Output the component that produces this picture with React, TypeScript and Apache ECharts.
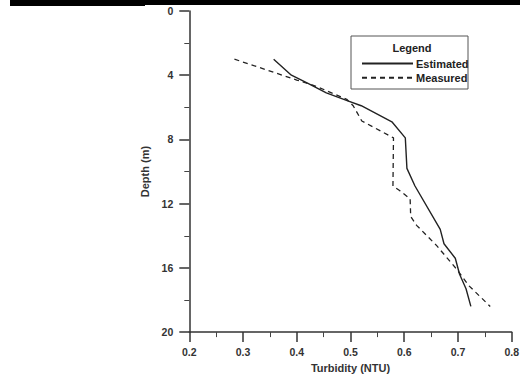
import React, { useEffect, useRef } from "react";
import * as echarts from "echarts";

const xTicks = [0.2, 0.3, 0.4, 0.5, 0.6, 0.7, 0.8];
const yTicks = [0, 4, 8, 12, 16, 20];

const estimatedTurbidity = [0.357, 0.39, 0.42, 0.455, 0.495, 0.52, 0.577, 0.602, 0.605, 0.62, 0.667, 0.674, 0.695, 0.703, 0.715, 0.724];
const estimatedDepth = [3.0, 4.0, 4.5, 5.1, 5.6, 5.9, 6.9, 7.9, 9.8, 10.9, 13.6, 14.5, 15.4, 16.4, 17.3, 18.4];

const measuredTurbidity = [0.284, 0.40, 0.437, 0.493, 0.505, 0.521, 0.58, 0.579, 0.592, 0.611, 0.612, 0.623, 0.66, 0.698, 0.72, 0.76];
const measuredDepth = [3.0, 4.3, 4.7, 5.5, 5.9, 6.85, 7.9, 10.9, 11.2, 11.7, 12.8, 13.35, 14.6, 16.1, 17.1, 18.4];

const FONT = "'Liberation Sans', Arial, sans-serif";

export default function App() {
  const ref = useRef<HTMLDivElement>(null);
  useEffect(() => {
    if (!ref.current) return;
    const chart = echarts.init(ref.current, undefined, { renderer: "svg" });
    const tickStyle = {
      axisTick: { show: true, length: 10, lineStyle: { color: "#333", width: 1.5 } },
      minorTick: { show: true, splitNumber: 2, length: 5, lineStyle: { color: "#444", width: 1 } },
      splitLine: { show: false },
      minorSplitLine: { show: false },
    };
    chart.setOption({
      animation: false,
      backgroundColor: "#fff",
      grid: { left: 189.3, right: 11.3, top: 11, bottom: 44.3, containLabel: false },
      xAxis: {
        type: "value",
        position: "bottom",
        min: xTicks[0],
        max: xTicks[xTicks.length - 1],
        interval: 0.1,
        name: "Turbidity (NTU)",
        nameLocation: "middle",
        nameGap: 27,
        nameTextStyle: { fontFamily: FONT, fontWeight: "bold", fontSize: 11, color: "#333" },
        axisLine: { show: true, onZero: false, lineStyle: { color: "#333", width: 1.5 } },
        axisLabel: {
          margin: 14,
          fontFamily: FONT,
          fontWeight: "bold",
          fontSize: 10.5,
          color: "#333",
          formatter: (v: number) => v.toFixed(1),
        },
        ...tickStyle,
      },
      yAxis: {
        type: "value",
        position: "left",
        inverse: true,
        min: yTicks[0],
        max: yTicks[yTicks.length - 1],
        interval: 4,
        name: "Depth (m)",
        nameLocation: "middle",
        nameGap: 36,
        nameTextStyle: { fontFamily: FONT, fontWeight: "bold", fontSize: 11, color: "#333" },
        axisLine: { show: true, onZero: false, lineStyle: { color: "#333", width: 1.5 } },
        axisLabel: { margin: 16, fontFamily: FONT, fontWeight: "bold", fontSize: 10.5, color: "#333" },
        ...tickStyle,
      },
      legend: {
        orient: "vertical",
        left: 356,
        top: 53,
        itemWidth: 51,
        itemHeight: 14,
        itemGap: 3,
        itemStyle: { opacity: 0 },
        textStyle: { fontFamily: FONT, fontWeight: "bold", fontSize: 11, color: "#222", padding: [0, 0, 0, -2] },
        data: ["Estimated", "Measured"],
      },
      series: [
        {
          name: "Estimated",
          type: "line",
          symbol: "none",
          lineStyle: { color: "#222", width: 1.4 },
          itemStyle: { color: "#222" },
          data: estimatedTurbidity.map((v, i) => [v, estimatedDepth[i]]),
        },
        {
          name: "Measured",
          type: "line",
          symbol: "none",
          lineStyle: { color: "#222", width: 1.3, type: [5, 4] },
          itemStyle: { color: "#222" },
          data: measuredTurbidity.map((v, i) => [v, measuredDepth[i]]),
        },
      ],
      graphic: [
        { type: "rect", shape: { x: 10, y: 0, width: 135, height: 6 }, style: { fill: "#000" } },
        { type: "rect", shape: { x: 145, y: 0, width: 375, height: 5 }, style: { fill: "#000" } },
        {
          type: "rect",
          shape: { x: 351, y: 36, width: 117, height: 53 },
          style: { fill: "none", stroke: "#555", lineWidth: 1 },
        },
        {
          type: "text",
          x: 412,
          y: 48,
          style: {
            text: "Legend",
            fontFamily: FONT,
            fontWeight: "bold",
            fontSize: 11,
            fill: "#222",
            align: "center",
            verticalAlign: "middle",
          },
        },
      ],
    });
    return () => chart.dispose();
  }, []);
  return <div ref={ref} style={{ position: "fixed", left: 0, top: 0, width: 523, height: 378 }} />;
}
